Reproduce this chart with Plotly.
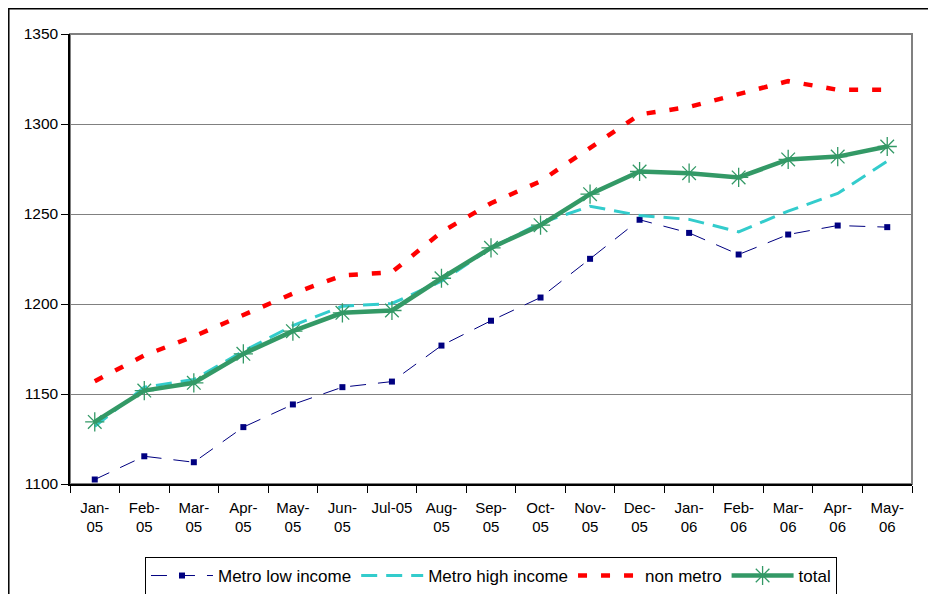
import plotly.graph_objects as go

months = ["Jan-<br>05", "Feb-<br>05", "Mar-<br>05", "Apr-<br>05", "May-<br>05", "Jun-<br>05",
          "Jul-05", "Aug-<br>05", "Sep-<br>05", "Oct-<br>05", "Nov-<br>05", "Dec-<br>05",
          "Jan-<br>06", "Feb-<br>06", "Mar-<br>06", "Apr-<br>06", "May-<br>06"]

metro_low = [1102.5, 1115.4, 1112.1, 1131.6, 1144.2, 1153.8, 1156.9, 1176.9, 1190.7,
             1203.6, 1225.1, 1246.8, 1239.5, 1227.5, 1238.6, 1243.6, 1242.7]
metro_high = [1132, 1153.8, 1158, 1173.8, 1188, 1198.8, 1200.3, 1212.7, 1231,
              1245, 1254.3, 1249.2, 1247, 1240.1, 1251.6, 1261.4, 1279.3]
non_metro = [1157.1, 1171.4, 1182, 1194.2, 1205.8, 1215.8, 1217.7, 1240, 1256,
             1268.2, 1286.8, 1305.3, 1309.5, 1316.6, 1323.8, 1319, 1319]
total = [1134.5, 1151.9, 1156.2, 1172.3, 1184.9, 1195.1, 1196.4, 1214.3, 1231.2,
         1243.8, 1261, 1273.6, 1272.7, 1270.3, 1280.3, 1281.9, 1287.5]

y_ticks = [1100, 1150, 1200, 1250, 1300, 1350]

FONT = "Liberation Sans, Arial, sans-serif"

fig = go.Figure()
fig.add_trace(go.Scatter(
    x=months, y=metro_low, name="Metro low income", mode="lines+markers",
    line=dict(color="#000080", width=1, dash="16px,12px"),
    marker=dict(symbol="square", size=6, color="#000080")))
fig.add_trace(go.Scatter(
    x=months, y=metro_high, name="Metro high income", mode="lines",
    line=dict(color="#33CCCC", width=3, dash="16px,9px")))
fig.add_trace(go.Scatter(
    x=months, y=non_metro, name="non metro", mode="lines",
    line=dict(color="#FF0000", width=4.5, dash="9px,14px")))
fig.add_trace(go.Scatter(
    x=months, y=total, name="total", mode="lines+markers",
    line=dict(color="#339966", width=4.5),
    marker=dict(symbol="asterisk-open", size=16, color="#339966",
                line=dict(color="#339966", width=1.3))))

fig.update_layout(
    width=936, height=594,
    margin=dict(l=62, r=32, t=26, b=118),
    paper_bgcolor="white", plot_bgcolor="white",
    font=dict(family=FONT, size=15, color="black"),
    showlegend=True,
    legend=dict(orientation="h", xref="container", yref="container",
                x=0.516, xanchor="center", y=0.0758, yanchor="top",
                bordercolor="black", borderwidth=1, font=dict(size=17, family=FONT),
                itemwidth=62, tracegroupgap=0),
    shapes=[
        dict(type="rect", xref="paper", yref="paper", x0=0, x1=1, y0=0, y1=1,
             line=dict(color="#808080", width=2), layer="below"),
        dict(type="rect", xref="paper", yref="paper", x0=-0.0727, x1=1.06, y0=-0.3, y1=1.0561,
             line=dict(color="black", width=1.5), layer="below"),
    ],
)
fig.update_xaxes(
    type="category", range=[-0.5, len(months) - 0.5],
    showgrid=False, showline=True, linecolor="black", linewidth=1.5,
    ticks="outside", tickson="boundaries", ticklen=7, tickcolor="black", tickwidth=1,
    tickfont=dict(size=15, family=FONT), tickangle=0, ticklabelstandoff=9,
    automargin=False)
fig.update_yaxes(
    range=[1100, 1350], tickvals=y_ticks, showgrid=True, gridcolor="#808080", gridwidth=1,
    showline=True, linecolor="black", linewidth=1.5, zeroline=False,
    ticks="outside", ticklen=7, tickcolor="black", tickwidth=1,
    tickfont=dict(size=15.5, family=FONT), automargin=False)

fig.write_html("out.html")
